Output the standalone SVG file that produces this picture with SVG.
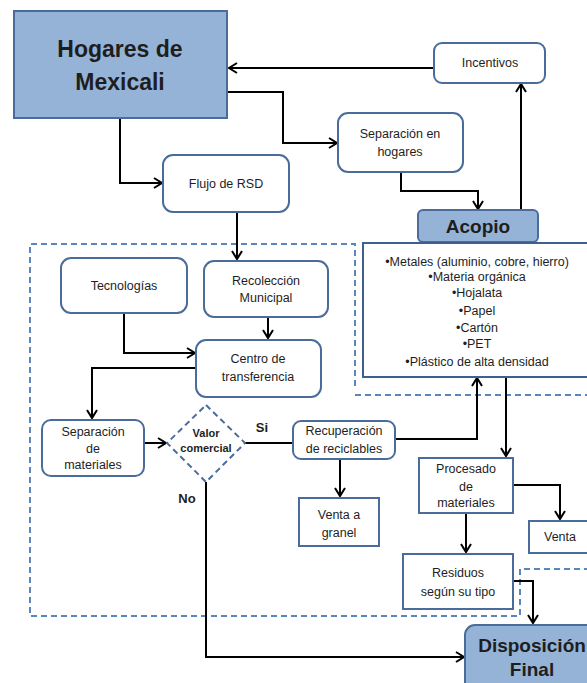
<svg xmlns="http://www.w3.org/2000/svg" width="587" height="683" viewBox="0 0 587 683">
<style>
text{font-family:"Liberation Sans",Arial,sans-serif;fill:#1e1e1e;text-anchor:middle;dominant-baseline:central}
.n{font-size:12.5px}
.b{font-weight:bold}
.box{fill:#fff;stroke:#4a6c9b;stroke-width:2}
.hl{fill:#95b3d7;stroke:#4a6c9b;stroke-width:2}
.c{fill:none;stroke:#000;stroke-width:2}
.d{fill:none;stroke:#5b86bd;stroke-width:2;stroke-dasharray:6 4}
</style>
<defs>
<marker id="a" markerWidth="12" markerHeight="12" refX="10" refY="6" orient="auto" markerUnits="userSpaceOnUse">
<path d="M2,1 L10,6 L2,11" fill="none" stroke="#000" stroke-width="2"/>
</marker>
</defs>
<g id="dashed">
<path class="d" d="M355,386 V244 H30 V616 H520 V569 H587"/>
<path class="d" d="M355,395 H587"/>
</g>
<g id="connectors">
<path class="c" d="M434,68 H229" marker-end="url(#a)"/>
<path class="c" d="M227,92 H283 V143 H337" marker-end="url(#a)"/>
<path class="c" d="M120,118 V183 H162" marker-end="url(#a)"/>
<path class="c" d="M237,212 V259" marker-end="url(#a)"/>
<path class="c" d="M401,172 V191 H478 V209" marker-end="url(#a)"/>
<path class="c" d="M521,210 V84" marker-end="url(#a)"/>
<path class="c" d="M268,317 V338" marker-end="url(#a)"/>
<path class="c" d="M124,313 V353 H195" marker-end="url(#a)"/>
<path class="c" d="M196,368 H92 V418" marker-end="url(#a)"/>
<path class="c" d="M144,443 H166" marker-end="url(#a)"/>
<path class="c" d="M245,443 H293"/>
<path class="c" d="M395,439 H477 V378" marker-end="url(#a)"/>
<path class="c" d="M506,377 V456" marker-end="url(#a)"/>
<path class="c" d="M340,459 V496" marker-end="url(#a)"/>
<path class="c" d="M513,485 H560 V519" marker-end="url(#a)"/>
<path class="c" d="M466,513 V552" marker-end="url(#a)"/>
<path class="c" d="M513,581 H533 V623" marker-end="url(#a)"/>
<path class="c" d="M206,482 V657 H464" marker-end="url(#a)"/>
</g>
<g id="hogares">
<rect class="hl" x="14" y="11" width="213" height="107"/>
<text class="b" x="120" y="49" font-size="23">Hogares de</text>
<text class="b" x="120" y="82" font-size="23">Mexicali</text>
</g>
<g id="incentivos">
<rect class="box" x="434" y="43" width="111" height="40" rx="8"/>
<text class="n" x="490" y="63">Incentivos</text>
</g>
<g id="separacion-hogares">
<rect class="box" x="338" y="113" width="125" height="59" rx="10"/>
<text class="n" x="400" y="134">Separación en</text>
<text class="n" x="400" y="152">hogares</text>
</g>
<g id="flujo">
<rect class="box" x="163" y="155" width="126" height="57" rx="10"/>
<text class="n" x="226" y="184">Flujo de RSD</text>
</g>
<g id="acopio">
<rect class="hl" x="418" y="210" width="120" height="32" rx="5"/>
<text class="b" x="478" y="226" font-size="19">Acopio</text>
</g>
<g id="acopio-lista">
<rect x="363" y="243" width="230" height="134" fill="#fff" stroke="#3f5f8c" stroke-width="2"/>
<text class="n" x="477" y="262">•Metales (aluminio, cobre, hierro)</text>
<text class="n" x="477" y="277">•Materia orgánica</text>
<text class="n" x="477" y="293">•Hojalata</text>
<text class="n" x="477" y="311">•Papel</text>
<text class="n" x="477" y="328">•Cartón</text>
<text class="n" x="477" y="344">•PET</text>
<text class="n" x="477" y="362">•Plástico de alta densidad</text>
</g>
<g id="tecnologias">
<rect class="box" x="61" y="258" width="126" height="55" rx="10"/>
<text class="n" x="124" y="286">Tecnologías</text>
</g>
<g id="recoleccion">
<rect class="box" x="204" y="261" width="124" height="56" rx="10"/>
<text class="n" x="266" y="281">Recolección</text>
<text class="n" x="266" y="298">Municipal</text>
</g>
<g id="centro">
<rect class="box" x="196" y="340" width="125" height="57" rx="10"/>
<text class="n" x="258" y="359">Centro de</text>
<text class="n" x="258" y="377">transferencia</text>
</g>
<g id="separacion-materiales">
<rect class="box" x="42" y="420" width="102" height="56" rx="9"/>
<text class="n" x="93" y="432">Separación</text>
<text class="n" x="93" y="449">de</text>
<text class="n" x="93" y="465">materiales</text>
</g>
<g id="valor">
<path d="M206,405 L245,443 L206,482 L167,443 Z" fill="#fff" stroke="#4a6c9b" stroke-width="2" stroke-dasharray="6 4"/>
<text class="b" x="206" y="433" font-size="11">Valor</text>
<text class="b" x="206" y="448" font-size="11">comercial</text>
</g>
<g id="labels">
<text class="b" x="262" y="427" font-size="13">Si</text>
<text class="b" x="187" y="498" font-size="13">No</text>
</g>
<g id="recuperacion">
<rect class="box" x="293" y="421" width="102" height="38" rx="8"/>
<text class="n" x="344" y="431">Recuperación</text>
<text class="n" x="344" y="449">de reciclables</text>
</g>
<g id="venta-granel">
<rect class="box" x="299" y="498" width="80" height="48"/>
<text class="n" x="339" y="515">Venta a</text>
<text class="n" x="339" y="533">granel</text>
</g>
<g id="procesado">
<rect class="box" x="419" y="458" width="94" height="55"/>
<text class="n" x="466" y="469">Procesado</text>
<text class="n" x="466" y="487">de</text>
<text class="n" x="466" y="503">materiales</text>
</g>
<g id="venta">
<rect class="box" x="529" y="521" width="64" height="32"/>
<text class="n" x="560" y="537">Venta</text>
</g>
<g id="residuos">
<rect class="box" x="403" y="554" width="110" height="55"/>
<text class="n" x="458" y="573">Residuos</text>
<text class="n" x="458" y="592">según su tipo</text>
</g>
<g id="disposicion">
<rect class="hl" x="465" y="625" width="135" height="70" rx="10"/>
<text class="b" x="532" y="645" font-size="19">Disposición</text>
<text class="b" x="532" y="669" font-size="19">Final</text>
</g>
</svg>
